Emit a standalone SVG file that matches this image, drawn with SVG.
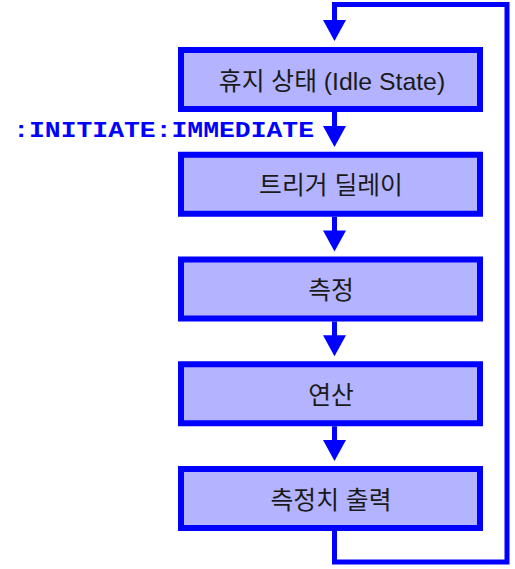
<svg xmlns="http://www.w3.org/2000/svg" width="515" height="569" viewBox="0 0 515 569">
<defs>
<style>
.box{fill:#b3b3ff;stroke:#0000ff;stroke-width:6}
.lbl{font-family:"Liberation Sans","Noto Sans CJK KR",sans-serif;font-size:24.8px;fill:#1a1a1a;text-anchor:middle}
.wire{fill:none;stroke:#0000ff;stroke-width:5;stroke-linejoin:miter}
.head{fill:#0000ff}
.cmd{font-family:"Liberation Mono","Courier New",monospace;font-weight:bold;font-size:22px;fill:#0000ff}
</style>
</defs>
<g id="connectors">
<path class="wire" d="M334.5,531 V562 H507 V4.5 H334.5 V21"/>
<polygon class="head" points="323,20 346,20 334.5,41"/>
<path class="wire" d="M334.5,111 V127"/>
<polygon class="head" points="323,126 346,126 334.5,147"/>
<path class="wire" d="M334.5,216.75 V231.5"/>
<polygon class="head" points="323,230.5 346,230.5 334.5,251.5"/>
<path class="wire" d="M334.5,321.5 V336.5"/>
<polygon class="head" points="323,335.25 346,335.25 334.5,356.25"/>
<path class="wire" d="M334.5,426.25 V441"/>
<polygon class="head" points="323,440 346,440 334.5,461"/>
</g>
<g id="idle">
<rect class="box" x="181" y="50" width="299" height="59"/>
<text class="lbl" x="332" y="89.5">휴지 상태 (Idle State)</text>
</g>
<g id="trigger-delay">
<rect class="box" x="181" y="154.75" width="299" height="59"/>
<text class="lbl" x="331" y="194.25">트리거 딜레이</text>
</g>
<g id="measure">
<rect class="box" x="181" y="259.5" width="299" height="59"/>
<text class="lbl" x="331" y="299">측정</text>
</g>
<g id="calc">
<rect class="box" x="181" y="364.25" width="299" height="59"/>
<text class="lbl" x="331" y="403.75">연산</text>
</g>
<g id="output">
<rect class="box" x="181" y="469" width="299" height="59"/>
<text class="lbl" x="331" y="508.5">측정치 출력</text>
</g>
<text class="cmd" transform="scale(1.2,1)" x="11" y="137">:INITIATE:IMMEDIATE</text>
</svg>
